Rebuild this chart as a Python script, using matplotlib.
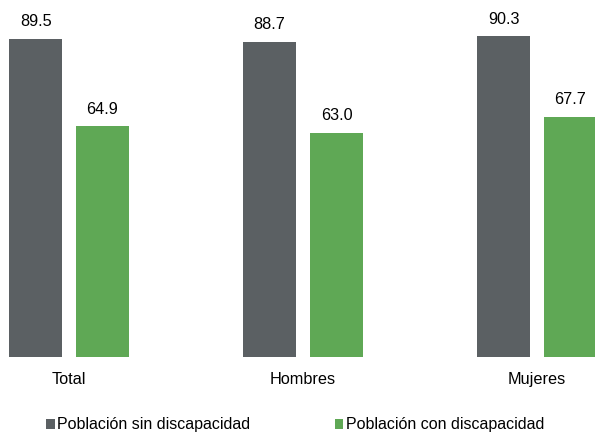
import numpy as np
import matplotlib.pyplot as plt

plt.rcParams['font.family'] = ['Liberation Sans', 'DejaVu Sans']

categorias = ["Total", "Hombres", "Mujeres"]
sin_disc = [89.5, 88.7, 90.3]
con_disc = [64.9, 63.0, 67.7]
series = ["Población sin discapacidad", "Población con discapacidad"]

gris = "#5b6063"
verde = "#5fa855"

fig = plt.figure(figsize=(5.95, 4.32), dpi=100)
ax = fig.add_axes([0, 75/432, 1, 357/432])

x = np.arange(len(categorias))
w = 0.2265
off = 0.143
b1 = ax.bar(x - off, sin_disc, w, color=gris, label=series[0])
b2 = ax.bar(x + off, con_disc, w, color=verde, label=series[1])

# etiquetas de valor
for barras in (b1, b2):
    for b in barras:
        ax.annotate("%.1f" % b.get_height(), (b.get_x() + b.get_width()/2, b.get_height()),
                    xytext=(0, 7), textcoords="offset points", ha="center", va="bottom", fontsize=11.7)

ax.set_xlim(-0.295, 2.248)
ax.set_ylim(0, 100.5)
ax.set_yticks([])
ax.set_xticks(x)
ax.set_xticklabels(categorias, fontsize=11.7)
ax.tick_params(axis="x", length=0, pad=11)
for s in ax.spines.values():
    s.set_visible(False)

ax.legend(loc="center", bbox_to_anchor=(295/595, -(425-357)/357), ncol=2, frameon=False,
          fontsize=11.5, handlelength=0.55, handleheight=0.55, handletextpad=0.15,
          columnspacing=5.3)

fig.savefig("out.png", dpi=100)
